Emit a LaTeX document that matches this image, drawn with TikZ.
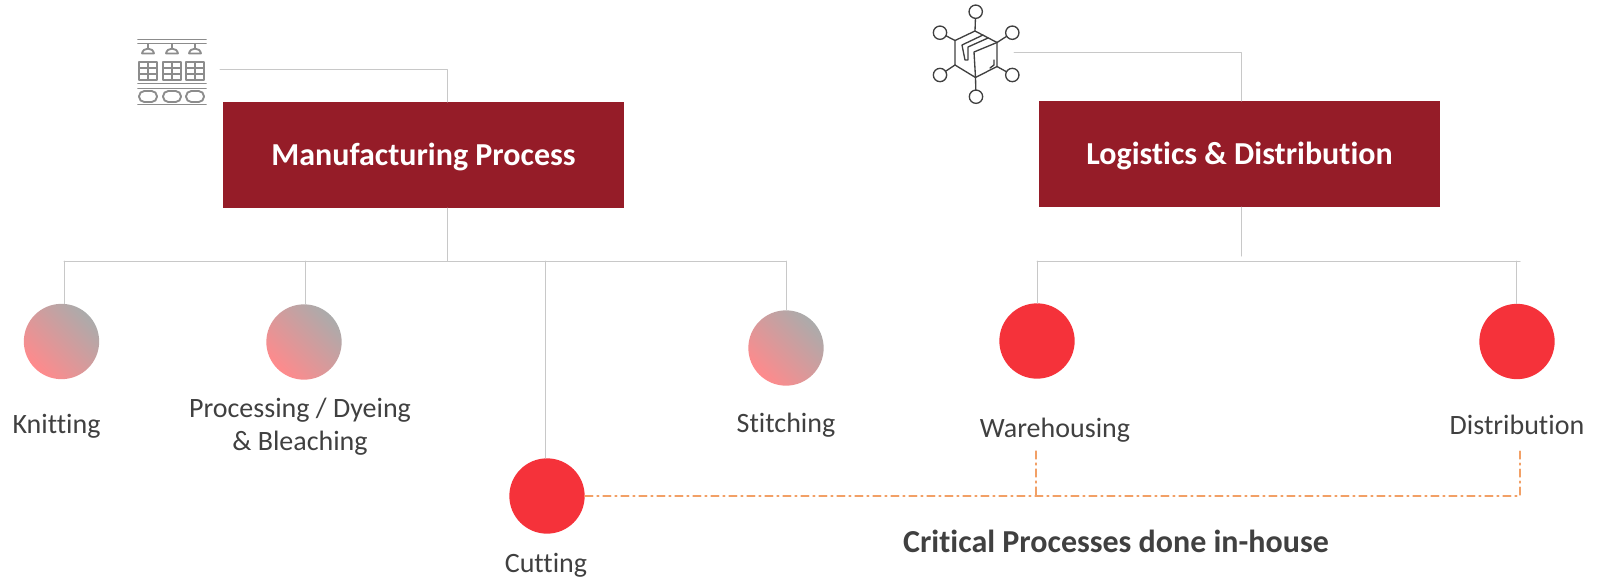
\documentclass[tikz,border=0pt]{standalone}
\usepackage{fontspec}
\setmainfont[Ligatures=NoCommon]{Carlito}
\usepackage{pgf,tikz}
\definecolor{boxred}{HTML}{951C28}
\definecolor{hotred}{HTML}{F5323A}
\definecolor{softred}{HTML}{FF8A8C}
\definecolor{softgray}{HTML}{ABABAB}
\definecolor{linegray}{HTML}{C8C8C8}
\definecolor{icongray}{HTML}{8C8C8C}
\definecolor{dashorange}{HTML}{F2A066}
\definecolor{textgray}{HTML}{404040}
\tikzset{
  headbox/.style={fill=boxred,text=white,minimum width=301pt,minimum height=79pt,inner sep=0pt,text height=17pt,text depth=2pt,font=\fontsize{24}{28}\selectfont\bfseries},
  hotdot/.style={circle,fill=hotred,minimum size=56.5pt,inner sep=0pt},
  softdot/.style={circle,left color=softred,right color=softgray,shading angle=135,minimum size=56.5pt,inner sep=0pt},
  caption/.style={text=textgray,align=center,inner sep=0pt,font=\fontsize{21}{24.5}\selectfont},
  wire/.style={draw=linegray,line width=0.75pt},
  critical/.style={draw=dashorange,line width=0.8pt,dash pattern=on 6pt off 3pt on 1.5pt off 3pt},
  icon/.style={draw=icongray,line width=1.4pt},
  netline/.style={draw=black!75,line width=1pt}
}
\begin{document}
\begin{tikzpicture}[line cap=round,line join=round,x=0.75pt,y=-0.75pt]
\useasboundingbox (0,0) rectangle (1600,579);
\node[headbox] (mfg) at (423.5,155) {Manufacturing Process};
\node[headbox] (logi) at (1239.5,154) {Logistics \& Distribution};
\node[softdot] (knit) at (61.5,341.5) {};
\node[softdot] (dye) at (304,342) {};
\node[hotdot] (cut) at (547,496) {};
\node[softdot] (stitch) at (786,348) {};
\node[hotdot] (ware) at (1037,341) {};
\node[hotdot] (dist) at (1517,341.5) {};
\node[caption] (knitlabel) at (56.5,426) {Knitting};
\node[caption] (dyelabel) at (300,427) {Processing / Dyeing\\\& Bleaching};
\node[caption] (stitchlabel) at (786,425) {Stitching};
\node[caption] (warelabel) at (1055,430) {Warehousing};
\node[caption] (distlabel) at (1517,425) {Distribution};
\node[caption] (cutlabel) at (546,565) {Cutting};
\node[caption,font=\fontsize{24}{28}\selectfont\bfseries] (critlabel) at (1116,541) {Critical Processes done in-house};
% wires
\coordinate (factoryend) at (220,69);
\coordinate (mfgtop) at (447,102);
\coordinate (mfgbottom) at (447,208);
\coordinate (mfgbus) at (447,261);
\coordinate (knitbus) at (64,261);
\coordinate (dyebus) at (305,261);
\coordinate (cutbus) at (545,261);
\coordinate (stitchbus) at (786,261);
\coordinate (parcelend) at (1014,52);
\coordinate (logitop) at (1241,101);
\coordinate (logibottom) at (1241,207);
\coordinate (logistub) at (1241,256);
\coordinate (warebus) at (1037,261);
\coordinate (distbus) at (1516,261);
\coordinate (busend) at (1520,261);
\draw[wire] (factoryend) -| (mfgtop);
\draw[wire] (mfgbottom) -- (mfgbus);
\draw[wire] (knitbus) -- (stitchbus);
\draw[wire] (knitbus) -- (knitbus |- knit.north);
\draw[wire] (dyebus) -- (dyebus |- dye.north);
\draw[wire] (cutbus) -- (cutbus |- cut.north);
\draw[wire] (stitchbus) -- (stitchbus |- stitch.north);
\draw[wire] (parcelend) -| (logitop);
\draw[wire] (logibottom) -- (logistub);
\draw[wire] (warebus) -- (busend);
\draw[wire] (warebus) -- (warebus |- ware.north);
\draw[wire] (distbus) -- (distbus |- dist.north);
% critical link
\coordinate (waredash) at (1036,451);
\coordinate (distdash) at (1520,449);
\draw[critical] (cut.east) -- (cut.east -| distdash) -- (distdash);
\draw[critical] (waredash) -- (waredash |- cut.east);
% factory icon
\draw[icon] (138,39.5) -- (206,39.5) (138,43.5) -- (206,43.5);
\foreach \x in {148,172,195} {
  \draw[icon] (\x,44) -- (\x,48) (\x-6,53.5) -- (\x+6,53.5) (\x-6,53.5) .. controls (\x-5,47) and (\x+5,47) .. (\x+6,53.5);
}
\foreach \x in {139,163,186} {
  \draw[icon] (\x,62) rectangle (\x+18,80);
  \draw[icon] (\x+9,62) -- (\x+9,80) (\x,68) -- (\x+18,68) (\x,74) -- (\x+18,74);
  \draw[icon,rounded corners=4pt] (\x,91) rectangle (\x+18,102);
}
\draw[icon] (138,83.5) -- (206,83.5) (138,88.5) -- (206,88.5) (138,104.5) -- (206,104.5);
% parcel icon
\draw[netline] (975,31) -- (997,42.5) -- (997,66.5) -- (975.5,77.5) -- (955,65) -- (955,40.5) -- cycle;
\draw[netline] (997,42.5) -- (974,52) -- (975.5,77.5);
\draw[netline] (983,35) -- (962,45) -- (965,60) -- (968,60) -- (968,47) -- (988,38);
\draw[netline] (990,68) -- (994,65) -- (994,60);
\foreach \px/\py/\qx/\qy in {975.7/11.7/975/31, 940/32.7/955/40.5, 1012.3/32.7/997/42.5, 940/75/955/65, 1012.3/75/997/66.5, 976/96.7/975.5/77.5} {
  \draw[netline] (\qx,\qy) -- (\px,\py);
  \draw[netline,fill=white] (\px,\py) circle (5pt);
}
\end{tikzpicture}
\end{document}
